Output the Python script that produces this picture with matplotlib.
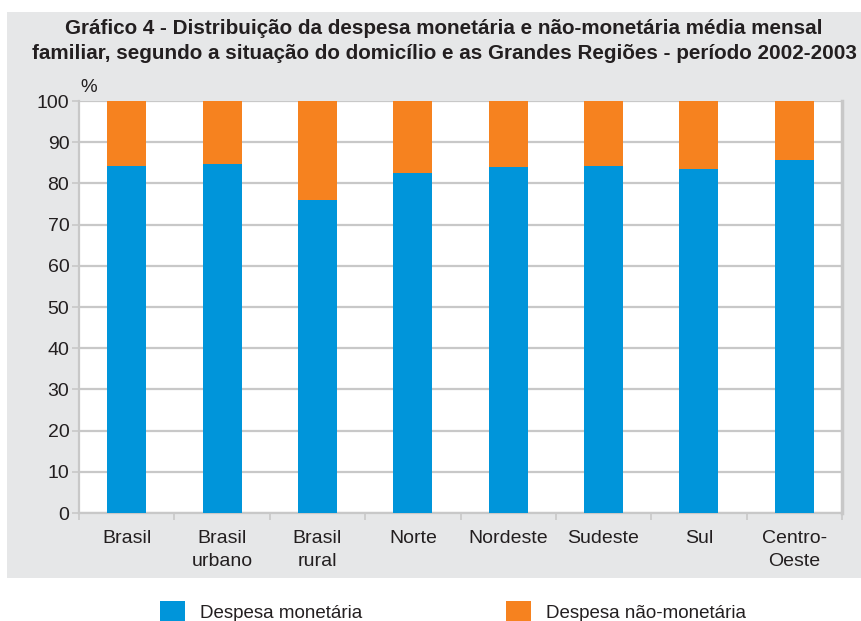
import numpy as np
import matplotlib
matplotlib.use("Agg")
import matplotlib.pyplot as plt
from matplotlib.patches import Rectangle

plt.rcParams['font.family'] = ['Liberation Sans', 'DejaVu Sans']

# dados (%)
categorias = ["Brasil", "Brasil\nurbano", "Brasil\nrural", "Norte",
              "Nordeste", "Sudeste", "Sul", "Centro-\nOeste"]
despesa_monetaria = [84.2, 84.7, 75.9, 82.6, 83.9, 84.2, 83.5, 85.6]
despesa_nao_monetaria = [16.1, 15.3, 24.1, 17.7, 16.1, 15.8, 16.5, 14.4]
yticks = list(range(0, 101, 10))

azul = "#0095da"
laranja = "#f6821f"
cinza_fundo = "#e6e7e8"
cinza_linha = "#c8c8c8"
texto = "#231f20"

W, H = 861, 621
fig = plt.figure(figsize=(W / 100, H / 100), dpi=100)

# fundo cinza do bloco do gráfico
fig.patches.append(Rectangle((7 / W, 1 - 578 / H), 1 - 7 / W, (578 - 12) / H,
                             transform=fig.transFigure, facecolor=cinza_fundo,
                             edgecolor="none", zorder=-10))

fig.text(444 / W, 1 - 19 / H,
         "Gráfico 4 - Distribuição da despesa monetária e não-monetária média mensal\n"
         "familiar, segundo a situação do domicílio e as Grandes Regiões - período 2002-2003",
         ha="center", va="top", fontsize=14.9, fontweight="bold", color=texto,
         linespacing=1.38)

ax = fig.add_axes([79 / W, 1 - 513 / H, (842 - 79) / W, (513 - 101) / H])
ax.set_facecolor("white")

x = np.arange(len(categorias))
b1 = ax.bar(x, despesa_monetaria, width=0.41, color=azul, zorder=3,
            label="Despesa monetária")
b2 = ax.bar(x, despesa_nao_monetaria, width=0.41, bottom=despesa_monetaria,
            color=laranja, zorder=3, label="Despesa não-monetária")

ax.set_xlim(-0.5, len(categorias) - 0.5)
ax.set_ylim(0, 100)
ax.set_yticks(yticks)
ax.set_xticks(x)
ax.set_xticklabels(categorias, linespacing=1.45)
ax.set_xticks(np.arange(-0.5, len(categorias)), minor=True)

ax.yaxis.grid(True, color=cinza_linha, linewidth=1.6, zorder=1)
ax.set_axisbelow(True)
for s in ["left", "bottom", "right"]:
    ax.spines[s].set_color(cinza_linha)
    ax.spines[s].set_linewidth(1.6)
ax.spines["right"].set_linewidth(2.5)
ax.spines["top"].set_visible(False)

ax.tick_params(axis="y", length=5, width=1.2, color=cinza_linha,
               labelsize=14, labelcolor=texto, pad=2)
ax.tick_params(axis="x", which="major", length=0, labelsize=14,
               labelcolor=texto, pad=12)
ax.tick_params(axis="x", which="minor", length=5, width=1.2, color=cinza_linha)

fig.text(80 / W, 1 - 88 / H, "%", ha="left", va="center", fontsize=13.5,
         color=texto)

fig.legend(handles=[b1, b2], loc="center left",
           bbox_to_anchor=(160 / W, 1 - 612 / H), ncol=2, frameon=False,
           fontsize=13.5, handlelength=1.35, handleheight=1.35,
           handletextpad=0.8, columnspacing=7.65, borderpad=0,
           borderaxespad=0, labelcolor=texto)

fig.savefig("out.png", dpi=100)
